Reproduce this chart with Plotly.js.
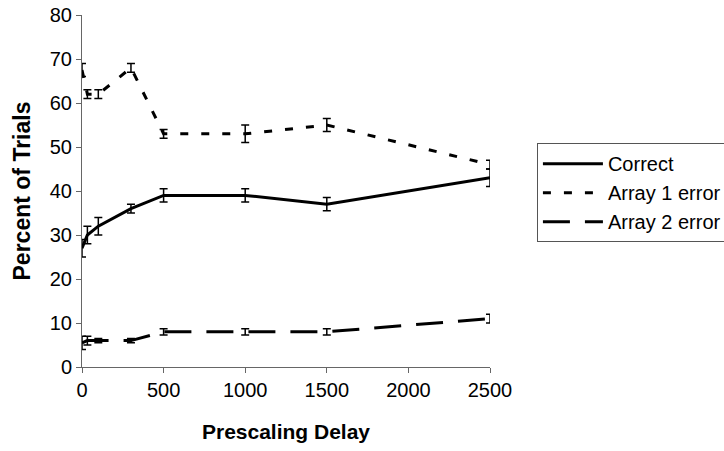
<!DOCTYPE html>
<html>
<head>
<meta charset="utf-8">
<script src="https://cdn.plot.ly/plotly-3.0.1.min.js"></script>
<style>html,body{margin:0;padding:0;background:#fff;}#chart{width:724px;height:451px;}</style>
</head>
<body>
<div id="chart"></div>
<script>
const delays = [0, 33, 100, 300, 500, 1000, 1500, 2500];
const correct = [27, 30, 32, 36, 39, 39, 37, 43];
const correctErr = [2, 2, 2, 1, 1.5, 1.5, 1.5, 2];
const array1 = [67.5, 62, 62, 68, 53, 53, 55, 46];
const array1Err = [1.5, 1, 1, 1, 1, 2, 1.5, 1];
const array2 = [5.5, 6, 6, 6, 8, 8, 8, 11];
const array2Err = [1.5, 1, 0.5, 0.5, 0.7, 0.7, 0.7, 1];
const seriesNames = ["Correct", "Array 1 error", "Array 2 error"];
const xTicks = [0, 500, 1000, 1500, 2000, 2500];
const yTicks = [0, 10, 20, 30, 40, 50, 60, 70, 80];

function mk(name, y, err, dash) {
  return {
    x: delays, y: y, name: name, type: 'scatter', mode: 'lines',
    line: {color: '#000', width: 3, dash: dash},
    error_y: {type: 'data', array: err, visible: true, color: '#000', thickness: 1.5, width: 4}
  };
}
const data = [
  mk(seriesNames[0], correct, correctErr, 'solid'),
  mk(seriesNames[1], array1, array1Err, '8px,13px'),
  mk(seriesNames[2], array2, array2Err, '27px,15px')
];
const fam = 'Liberation Sans, Arial, sans-serif';
const layout = {
  width: 724, height: 451,
  margin: {l: 82, r: 234, t: 15, b: 84, autoexpand: false},
  paper_bgcolor: '#fff', plot_bgcolor: '#fff',
  font: {family: fam, color: '#000', size: 20},
  showlegend: true,
  legend: {
    x: 1.115, y: 0.636, xanchor: 'left', yanchor: 'top',
    bordercolor: '#555', borderwidth: 1, bgcolor: '#fff',
    font: {family: fam, size: 20, color: '#000'},
    itemwidth: 60, tracegroupgap: 0
  },
  xaxis: {
    range: [0, 2500], tickvals: xTicks, ticktext: xTicks.map(String),
    showgrid: false, zeroline: false, showline: true, linecolor: '#666', linewidth: 1,
    ticks: 'outside', ticklen: 5, tickcolor: '#666',
    tickfont: {family: fam, size: 20, color: '#000'},
    title: {text: '<b>Prescaling Delay</b>', font: {family: fam, size: 21, color: '#000'}, standoff: 24}
  },
  yaxis: {
    range: [0, 80], tickvals: yTicks, ticktext: yTicks.map(String),
    showgrid: false, zeroline: false, showline: true, linecolor: '#666', linewidth: 1,
    ticks: 'outside', ticklen: 5, tickcolor: '#666',
    tickfont: {family: fam, size: 20, color: '#000'},
    title: {text: '<b>Percent of Trials</b>', font: {family: fam, size: 23, color: '#000'}, standoff: 12}
  }
};
Plotly.newPlot('chart', data, layout, {displayModeBar: false, staticPlot: true});
</script>
</body>
</html>
